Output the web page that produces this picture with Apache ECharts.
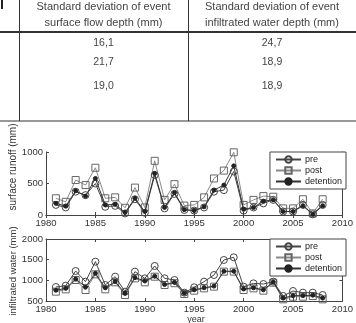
<!DOCTYPE html>
<html>
<head>
<meta charset="utf-8">
<script src="https://cdn.jsdelivr.net/npm/echarts@6/dist/echarts.min.js"></script>
<style>
  html, body { margin: 0; padding: 0; background: #fff; }
  #chart { width: 356px; height: 323px; }
</style>
</head>
<body>
<div id="chart"></div>
<script>
// table values (cropped table above the charts)
const tableHeaders = [
  ['Standard deviation of event', 'surface flow depth (mm)'],
  ['Standard deviation of event', 'infiltrated water depth (mm)']
];
const surfaceStd = ['16,1', '21,7', '19,0'];
const infiltStd = ['24,7', '18,9', '18,9'];

// chart data
const years = [1981, 1982, 1983, 1984, 1985, 1986, 1987, 1988, 1989, 1990, 1991, 1992, 1993, 1994,
  1995, 1996, 1997, 1998, 1999, 2000, 2001, 2002, 2003, 2004, 2005, 2006, 2007, 2008];
const seriesNames = ['pre', 'post', 'detention'];

const runoffPre = [160, 120, 370, 315, 500, 130, 145, 25, 250, 35, 635, 105, 335, 80,
  70, 120, 370, 395, 690, 70, 120, 185, 240, 55, 55, 160, 10, 160];
const runoffPost = [265, 210, 555, 475, 750, 265, 280, 115, 435, 120, 860, 240, 490, 150,
  160, 280, 580, 705, 995, 160, 240, 300, 290, 105, 105, 250, 25, 250];
const runoffDet = [185, 140, 385, 300, 580, 160, 170, 40, 265, 55, 660, 120, 355, 85,
  70, 130, 395, 475, 780, 90, 120, 220, 240, 55, 55, 145, 10, 145];

const infPre = [839, 871, 1226, 968, 1452, 887, 1089, 726, 1210, 1048, 1347, 1049, 1008, 702,
  831, 968, 1129, 1492, 1557, 847, 927, 911, 968, 621, 742, 702, 702, 645];
const infPost = [726, 782, 1008, 766, 1145, 782, 952, 645, 1048, 952, 1088, 887, 930, 669,
  750, 806, 847, 1210, 1210, 766, 806, 750, 943, 540, 605, 605, 621, 540];
const infDet = [760, 806, 1030, 840, 1170, 820, 970, 685, 1065, 985, 1100, 900, 950, 690,
  770, 820, 860, 1220, 1220, 790, 820, 770, 960, 570, 630, 630, 640, 570];

const FONT = 'Liberation Sans, Arial, sans-serif';
const AXIS = '#444';

const chart = echarts.init(document.getElementById('chart'));

const pairs = (vals) => years.map((y, i) => [y, vals[i]]);
const plain = (v) => String(v);

// one axis set per panel: bottom/left with labels, top/right just ticks
const xAxes = (gridIndex) => [
  {
    gridIndex, type: 'value', position: 'bottom', min: 1980, max: 2010, interval: 5,
    axisLine: { show: true, lineStyle: { color: AXIS, width: 1 } },
    axisTick: { show: true, inside: true, length: 3, lineStyle: { color: AXIS } },
    axisLabel: { fontSize: 9.5, color: '#333', fontFamily: FONT, margin: 3, formatter: plain },
    splitLine: { show: false }
  },
  {
    gridIndex, type: 'value', position: 'top', min: 1980, max: 2010, interval: 5,
    axisLine: { show: true, lineStyle: { color: AXIS, width: 1 } },
    axisTick: { show: true, inside: true, length: 3, lineStyle: { color: AXIS } },
    axisLabel: { show: false },
    splitLine: { show: false }
  }
];

const yAxes = (gridIndex, min, max) => [
  {
    gridIndex, type: 'value', position: 'left', min, max, interval: 500,
    axisLine: { show: true, lineStyle: { color: AXIS, width: 1 } },
    axisTick: { show: true, inside: true, length: 3, lineStyle: { color: AXIS } },
    axisLabel: { fontSize: 9.5, color: '#333', fontFamily: FONT, margin: 3, formatter: plain },
    splitLine: { show: false }
  },
  {
    gridIndex, type: 'value', position: 'right', min, max, interval: 500,
    axisLine: { show: true, lineStyle: { color: AXIS, width: 1 } },
    axisTick: { show: true, inside: true, length: 3, lineStyle: { color: AXIS } },
    axisLabel: { show: false },
    splitLine: { show: false }
  }
];

const styles = {
  pre: {
    symbol: 'circle', symbolSize: 7,
    lineStyle: { color: '#444', width: 1 },
    itemStyle: { color: 'rgba(255,255,255,0)', borderColor: '#444', borderWidth: 1 }
  },
  post: {
    symbol: 'rect', symbolSize: 7,
    lineStyle: { color: '#8a8a8a', width: 1 },
    itemStyle: { color: 'rgba(255,255,255,0)', borderColor: '#666', borderWidth: 1 }
  },
  detention: {
    symbol: 'circle', symbolSize: 4,
    lineStyle: { color: '#333', width: 1 },
    itemStyle: { color: '#222', borderColor: '#222', borderWidth: 1 }
  }
};

const makeSeries = (name, vals, xIdx, yIdx) => Object.assign({
  name, type: 'line', data: pairs(vals), xAxisIndex: xIdx, yAxisIndex: yIdx,
  showSymbol: true, animation: false, z: name === 'post' ? 2 : 3
}, styles[name]);

const legendBox = (top) => ({
  top, right: 10, orient: 'vertical', align: 'left',
  data: seriesNames,
  itemWidth: 25, itemHeight: 8, itemGap: 2,
  padding: [3, 4, 3, 5],
  backgroundColor: '#fff', borderColor: AXIS, borderWidth: 1,
  textStyle: { fontSize: 9, color: '#222', fontFamily: FONT, padding: [0, 0, 0, -1] },
  selectedMode: false
});

// table drawn as plain graphics
const tableGraphics = [
  { type: 'rect', shape: { x: 1, y: 0, width: 2, height: 9 }, style: { fill: '#222' } },
  { type: 'line', shape: { x1: 19.5, y1: 0, x2: 19.5, y2: 121 }, style: { stroke: '#333', lineWidth: 1 } },
  { type: 'line', shape: { x1: 188.5, y1: 0, x2: 188.5, y2: 121 }, style: { stroke: '#333', lineWidth: 1 } },
  { type: 'line', shape: { x1: 0, y1: 32, x2: 356, y2: 32 }, style: { stroke: '#333', lineWidth: 2 } },
  { type: 'line', shape: { x1: 0, y1: 121, x2: 356, y2: 121 }, style: { stroke: '#333', lineWidth: 1 } }
];
const colCenters = [103.5, 272];
const rowYs = [43, 62, 86];
tableHeaders.forEach((lines, c) => {
  lines.forEach((t, k) => {
    tableGraphics.push({
      type: 'text', x: colCenters[c], y: 7 + k * 16,
      style: { text: t, fontSize: 11, fontFamily: FONT, fill: '#444', align: 'center', verticalAlign: 'middle' }
    });
  });
});
[surfaceStd, infiltStd].forEach((col, c) => {
  col.forEach((t, r) => {
    tableGraphics.push({
      type: 'text', x: colCenters[c], y: rowYs[r],
      style: { text: t, fontSize: 10.5, fontFamily: FONT, fill: '#444', align: 'center', verticalAlign: 'middle' }
    });
  });
});

const axisNames = [
  { type: 'text', x: 13, y: 167, rotation: Math.PI / 2,
    style: { text: 'surface runoff (mm)', fontSize: 10, fontFamily: FONT, fill: '#333', align: 'center', verticalAlign: 'middle' } },
  { type: 'text', x: 13, y: 271, rotation: Math.PI / 2,
    style: { text: 'infiltrated water (mm)', fontSize: 9.5, fontFamily: FONT, fill: '#333', align: 'center', verticalAlign: 'middle' } },
  { type: 'text', x: 196, y: 320,
    style: { text: 'year', fontSize: 9, fontFamily: FONT, fill: '#333', align: 'center', verticalAlign: 'middle' } }
];

const option = {
  animation: false,
  grid: [
    { left: 46, right: 10, top: 152, height: 63 },
    { left: 46, right: 10, top: 239, height: 62 }
  ],
  xAxis: [...xAxes(0), ...xAxes(1)],
  yAxis: [...yAxes(0, 0, 1000), ...yAxes(1, 500, 2000)],
  legend: [legendBox(152), legendBox(239)],
  series: [
    makeSeries('post', runoffPost, 0, 0),
    makeSeries('pre', runoffPre, 0, 0),
    makeSeries('detention', runoffDet, 0, 0),
    makeSeries('post', infPost, 2, 2),
    makeSeries('pre', infPre, 2, 2),
    makeSeries('detention', infDet, 2, 2)
  ],
  graphic: [...tableGraphics, ...axisNames]
};

chart.setOption(option);
</script>
</body>
</html>
